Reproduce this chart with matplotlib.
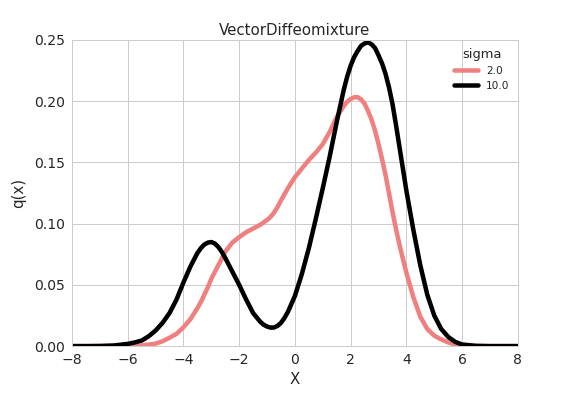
import matplotlib
matplotlib.use('Agg')
import matplotlib.pyplot as plt

x_vals = [-8.0, -7.5, -7.0, -6.5, -6.0, -5.75, -5.5, -5.25, -5.0, -4.75,
          -4.5, -4.25, -4.0, -3.75, -3.5, -3.375, -3.25, -3.125, -3.0, -2.875,
          -2.75, -2.625, -2.5, -2.25, -2.0, -1.75, -1.5, -1.25, -1.125, -1.0,
          -0.875, -0.75, -0.625, -0.5, -0.375, -0.25, 0.0, 0.25, 0.5, 0.75,
          1.0, 1.25, 1.5, 1.75, 1.875, 2.0, 2.125, 2.25, 2.375, 2.5,
          2.625, 2.75, 2.875, 3.0, 3.125, 3.25, 3.375, 3.5, 3.625, 3.75,
          4.0, 4.25, 4.5, 4.75, 5.0, 5.25, 5.5, 5.75, 6.0, 6.5,
          7.0, 7.5, 8.0]

# sigma = 2.0
q_sigma2 = [0.0, 0.0, 0.0, 0.0, 0.0, 0.0002, 0.0005, 0.0012, 0.002, 0.004,
            0.0068, 0.010, 0.0154, 0.022, 0.031, 0.036, 0.042, 0.048, 0.055, 0.0605,
            0.066, 0.0715, 0.077, 0.0845, 0.089, 0.093, 0.096, 0.099, 0.101, 0.103,
            0.1055, 0.109, 0.1135, 0.119, 0.124, 0.129, 0.138, 0.145, 0.152, 0.158,
            0.165, 0.175, 0.187, 0.196, 0.1995, 0.2018, 0.2032, 0.2033, 0.2015, 0.198,
            0.192, 0.185, 0.176, 0.165, 0.153, 0.140, 0.125, 0.110, 0.096, 0.083,
            0.060, 0.040, 0.024, 0.014, 0.0085, 0.0055, 0.003, 0.0013, 0.0005, 0.0001,
            0.0, 0.0, 0.0]

# sigma = 10.0
q_sigma10 = [0.0, 0.0, 0.0001, 0.0005, 0.0018, 0.003, 0.0045, 0.008, 0.0127, 0.019,
             0.027, 0.038, 0.052, 0.065, 0.076, 0.080, 0.083, 0.0845, 0.085, 0.0838,
             0.081, 0.077, 0.072, 0.061, 0.050, 0.038, 0.027, 0.020, 0.0175, 0.016,
             0.0151, 0.0152, 0.0165, 0.019, 0.023, 0.028, 0.041, 0.059, 0.080, 0.104,
             0.129, 0.155, 0.183, 0.209, 0.220, 0.229, 0.236, 0.241, 0.2453, 0.2472,
             0.248, 0.2465, 0.2435, 0.2375, 0.231, 0.2225, 0.2115, 0.198, 0.181, 0.163,
             0.127, 0.095, 0.066, 0.042, 0.025, 0.014, 0.0075, 0.0035, 0.0013, 0.0002,
             0.0, 0.0, 0.0]

sigmas = ['2.0', '10.0']
colors = ['lightcoral', 'black']

plt.rcParams['font.family'] = ['DejaVu Sans']
text_color = '#262626'

fig = plt.figure(figsize=(8, 5.5), dpi=72)
ax = fig.add_axes([0.125, 0.126, 0.774, 0.773])

for sig, col, q in zip(sigmas, colors, [q_sigma2, q_sigma10]):
    ax.plot(x_vals, q, color=col, lw=4.5, label=sig,
            solid_joinstyle='round', solid_capstyle='round')

ax.set_xlim(-8, 8)
ax.set_ylim(0, 0.25)
ax.set_xticks(range(-8, 9, 2))
ax.set_yticks([0.0, 0.05, 0.10, 0.15, 0.20, 0.25])
ax.set_yticklabels(['0.00', '0.05', '0.10', '0.15', '0.20', '0.25'])

# whitegrid look
ax.grid(True, color='#cccccc', lw=1)
ax.set_axisbelow(True)
for s in ax.spines.values():
    s.set_color('#cccccc')
    s.set_linewidth(1)
ax.tick_params(length=0, pad=7, labelsize=14, colors=text_color)

ax.set_xlabel('X', fontsize=15, color=text_color, labelpad=5)
ax.set_ylabel('q(x)', fontsize=15, color=text_color, labelpad=8)
ax.set_title('VectorDiffeomixture', fontsize=15, color=text_color, pad=5)

leg = ax.legend(title='sigma', frameon=False, fontsize=10.5, loc='upper right',
                handlelength=2.2, borderaxespad=0.4, labelspacing=0.45)
leg.get_title().set_fontsize(13)
leg.get_title().set_color(text_color)
for t in leg.get_texts():
    t.set_color(text_color)

plt.savefig('out.png', dpi=72)
